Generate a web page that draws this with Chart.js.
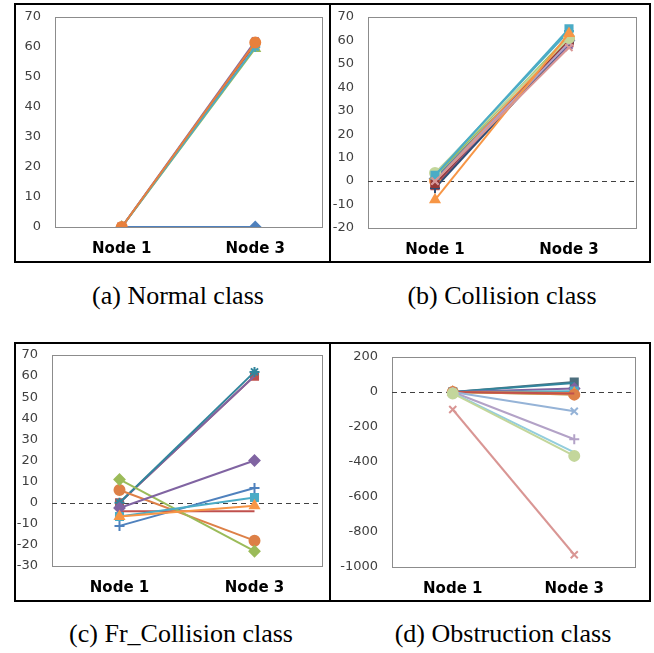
<!DOCTYPE html>
<html>
<head>
<meta charset="utf-8">
<script src="https://cdn.jsdelivr.net/npm/chart.js@4"></script>
<style>
  body { margin: 0; background: #fff; }
  #page { position: relative; width: 654px; height: 653px; }
  .panel { position: absolute; box-sizing: border-box; border: 2px solid #000; }
  .panel canvas { display: block; }
  .caption { position: absolute; width: 330px; text-align: center; line-height: 30px;
             font-family: "Liberation Serif", serif; font-size: 26px; color: #000; }
</style>
</head>
<body>
<div id="page">
  <div class="panel" style="left:14px;top:3px;width:317px;height:260px"><canvas id="chartA" width="313" height="256"></canvas></div>
  <div class="panel" style="left:329px;top:3px;width:322px;height:260px"><canvas id="chartB" width="318" height="256"></canvas></div>
  <div class="panel" style="left:14px;top:342px;width:317px;height:260px"><canvas id="chartC" width="313" height="256"></canvas></div>
  <div class="panel" style="left:329px;top:342px;width:322px;height:260px"><canvas id="chartD" width="318" height="256"></canvas></div>
  <div class="caption" style="left:13px;top:281px">(a) Normal class</div>
  <div class="caption" style="left:337px;top:281px">(b) Collision class</div>
  <div class="caption" style="left:16px;top:619px">(c) Fr_Collision class</div>
  <div class="caption" style="left:338px;top:619px">(d) Obstruction class</div>
</div>
<script>
// categories
const nodes = ["Node 1", "Node 3"];

// each entry: [Node 1, Node 3]
const normalValues = [[0, 0], [0, 61], [0, 59.5], [0, 62], [0, 60], [0, 61.5]];
const collisionValues = [
  [1, 60], [-2, 59], [2, 62], [-1, 58], [3, 64], [0, 61], [-3, 59],
  [-1, 60], [0, 59], [3.5, 61], [2.5, 65], [-8, 63], [0, 57]
];
const frCollisionValues = [
  [-11, 7], [0, 60], [-4, -4], [0, 60], [0, 62], [6, -18],
  [11, -23], [-2.5, 20], [-6.5, 2.5], [-6.5, -1.5]
];
const obstructionValues = [
  [0, 57], [0, 52], [0, 20], [0, 5], [0, -5], [0, -15], [0, -15], [0, -8],
  [0, -110], [0, -270], [-5, -345], [-8, -365], [-100, -930]
];

// y tick ranges: min, max, step
const normalTicks = [0, 70, 10];
const collisionTicks = [-20, 70, 10];
const frCollisionTicks = [-30, 70, 10];
const obstructionTicks = [-1000, 200, 200];

const normalStyle = [
  ["#4F81BD", "rectRot"], ["#C0504D", "rect"], ["#9BBB59", "triangle"],
  ["#8064A2", "crossRot"], ["#4BACC6", "star"], ["#E8803C", "circle"]
];
const collisionStyle = [
  ["#4F81BD", "rectRot"], ["#C0504D", "rect"], ["#9BBB59", "triangle"],
  ["#8064A2", "crossRot"], ["#4BACC6", "star"], ["#F79646", "circle"],
  ["#2C4D75", "cross"], ["#953735", "rect"], ["#B3A2C7", "crossRot"],
  ["#C3D69B", "circle"], ["#4BACC6", "rect"], ["#F79646", "triangle"],
  ["#D99694", "crossRot"]
];
const frCollisionStyle = [
  ["#4F81BD", "cross"], ["#C0504D", "rect"], ["#C0504D", false],
  ["#8064A2", false], ["#31859C", "star"], ["#DD8047", "circle"],
  ["#9BBB59", "rectRot"], ["#8064A2", "rectRot"], ["#4BACC6", "rect"],
  ["#F79646", "triangle"]
];
const obstructionStyle = [
  ["#4D6F7E", "rect"], ["#31859C", false], ["#8064A2", "rectRot"],
  ["#4BACC6", "rect"], ["#F79646", "triangle"], ["#9BBB59", false],
  ["#DD8047", "circle"], ["#C0504D", false], ["#95B3D7", "crossRot"],
  ["#B3A2C7", "cross"], ["#93CDDD", false], ["#C3D69B", "circle"],
  ["#D99694", "crossRot"]
];

// grey plot box and dashed zero line
const plotFrame = {
  id: "plotFrame",
  beforeDatasetsDraw(chart, args, opts) {
    const a = chart.chartArea, ctx = chart.ctx;
    ctx.save();
    ctx.strokeStyle = "#8c8c8c";
    ctx.lineWidth = 1;
    ctx.strokeRect(a.left + 0.5, a.top + 0.5, a.right - a.left, a.bottom - a.top);
    if (opts.zeroLine) {
      const y = Math.round(chart.scales.y.getPixelForValue(0)) + 0.5;
      ctx.strokeStyle = "#404040";
      ctx.setLineDash([5, 4]);
      ctx.beginPath();
      ctx.moveTo(a.left, y);
      ctx.lineTo(a.right, y);
      ctx.stroke();
    }
    ctx.restore();
  }
};

function makeChart(id, values, styles, ticks, geo, zeroLine) {
  const n = values.length;
  const datasets = values.map((v, i) => ({
    data: v,
    borderColor: styles[i][0],
    backgroundColor: styles[i][0],
    pointStyle: styles[i][1],
    pointRadius: styles[i][1] ? 5 : 0,
    pointBorderWidth: 2,
    borderWidth: 2,
    order: n - i
  }));
  new Chart(document.getElementById(id), {
    type: "line",
    data: { labels: nodes, datasets: datasets },
    options: {
      responsive: false,
      animation: false,
      devicePixelRatio: 1,
      layout: { padding: { top: geo.top, right: geo.right, left: 0, bottom: 0 } },
      plugins: { legend: { display: false }, tooltip: { enabled: false },
                 plotFrame: { zeroLine: zeroLine } },
      scales: {
        x: {
          offset: true,
          grid: { display: false, drawTicks: false },
          border: { display: false },
          ticks: { color: "#000", padding: 13, font: { family: "DejaVu Sans", size: 15, weight: "bold" } },
          afterFit(s) { s.height = geo.bottom; s.paddingLeft = 0; s.paddingRight = 0; }
        },
        y: {
          min: ticks[0], max: ticks[1],
          grid: { display: false, drawTicks: false },
          border: { display: false },
          ticks: { stepSize: ticks[2], color: "#404040", padding: 14,
                   font: { family: "DejaVu Sans", size: 13 },
                   callback: (v) => String(v) },
          afterFit(s) { s.width = geo.left; s.paddingTop = 0; s.paddingBottom = 0; }
        }
      }
    },
    plugins: [plotFrame]
  });
}

makeChart("chartA", normalValues, normalStyle, normalTicks, { left: 39, right: 4, top: 12, bottom: 34 }, false);
makeChart("chartB", collisionValues, collisionStyle, collisionTicks, { left: 37, right: 13, top: 12, bottom: 33 }, true);
makeChart("chartC", frCollisionValues, frCollisionStyle, frCollisionTicks, { left: 36, right: 4, top: 11, bottom: 34 }, true);
makeChart("chartD", obstructionValues, obstructionStyle, obstructionTicks, { left: 61, right: 14, top: 13, bottom: 33 }, true);
</script>
</body>
</html>
